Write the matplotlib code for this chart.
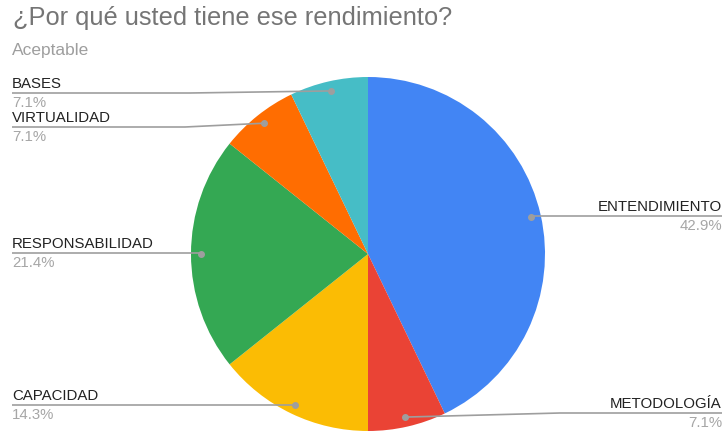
import numpy as np
import matplotlib
matplotlib.use('Agg')
from matplotlib import pyplot as plt

plt.rcParams['font.family'] = ['Liberation Sans', 'DejaVu Sans']

title = '¿Por qué usted tiene ese rendimiento?'
subtitle = 'Aceptable'

categories = ['ENTENDIMIENTO', 'METODOLOGÍA', 'CAPACIDAD', 'RESPONSABILIDAD', 'VIRTUALIDAD', 'BASES']
counts = [6, 1, 2, 3, 1, 1]
colors = ['#4285F4', '#EA4335', '#FBBC04', '#34A853', '#FF6D01', '#46BDC6']

W, H = 725, 433
CX, CY, R = 368, 254, 177

# label placement: (side, y of the leader line, x where the line bends)
label_layout = {
    'ENTENDIMIENTO': ('right', 216, None),
    'METODOLOGÍA': ('right', 413, 560),
    'CAPACIDAD': ('left', 405, None),
    'RESPONSABILIDAD': ('left', 253, None),
    'VIRTUALIDAD': ('left', 127, 185),
    'BASES': ('left', 93, 190),
}


def py(y):
    # pixel rows run downward, data y runs upward
    return H - y


fig = plt.figure(figsize=(W / 100, H / 100), dpi=100)
ax = fig.add_axes([0, 0, 1, 1])

wedges, _ = ax.pie(counts, colors=colors, startangle=90, counterclock=False,
                   center=(CX, py(CY)), radius=R, frame=True,
                   wedgeprops={'linewidth': 0})
ax.set_xlim(0, W)
ax.set_ylim(0, H)
ax.set_aspect('equal')
ax.axis('off')

total = sum(counts)
line_color = '#9e9e9e'
for wedge, name, n in zip(wedges, categories, counts):
    mid = np.deg2rad((wedge.theta1 + wedge.theta2) / 2)
    dx = CX + 0.945 * R * np.cos(mid)
    dy = py(CY) + 0.945 * R * np.sin(mid)
    side, ly, bend = label_layout[name]
    pct = '{:.1f}%'.format(100 * n / total)
    if side == 'left':
        xs = [12, bend if bend else dx, dx]
        ys = [py(ly), py(ly), dy]
        tx, ha = 12, 'left'
    else:
        xs = [dx, bend if bend else dx, 722]
        ys = [dy, py(ly), py(ly)]
        tx, ha = 722, 'right'
    ax.plot(xs, ys, color=line_color, lw=1.2, solid_capstyle='butt', zorder=3)
    ax.plot([dx], [dy], 'o', color=line_color, ms=4, zorder=4)
    ax.text(tx, py(ly) + 2, name, ha=ha, va='bottom', fontsize=10.8, color='#222222')
    ax.text(tx, py(ly) - 3, pct, ha=ha, va='top', fontsize=10.8, color='#a6a6a6')

ax.text(13, py(18), title, ha='left', va='center', fontsize=18.3, color='#757575')
ax.text(12, py(51), subtitle, ha='left', va='center', fontsize=12.5, color='#9e9e9e')

fig.savefig('out.png', dpi=100)
